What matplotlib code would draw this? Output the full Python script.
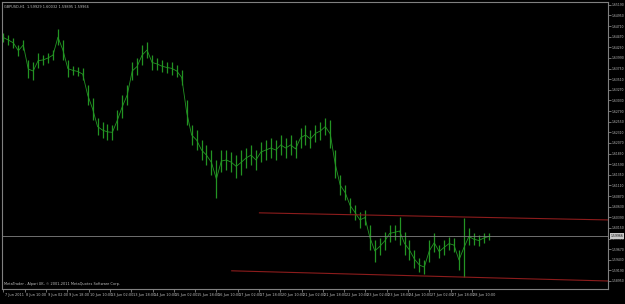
import matplotlib
matplotlib.use("Agg")
import matplotlib.pyplot as plt
import numpy as np

# GBPUSD H1, sampled every few bars: high / low of each sample
highs = [1.6455, 1.6451, 1.6444, 1.6428, 1.6440, 1.6394, 1.6390, 1.6410, 1.6406, 1.6410,
         1.6417, 1.6464, 1.6440, 1.6394, 1.6381, 1.6379, 1.6376, 1.6338, 1.6309, 1.6263,
         1.6254, 1.6250, 1.6248, 1.6281, 1.6315, 1.6338, 1.6390, 1.6399, 1.6428, 1.6435,
         1.6406, 1.6399, 1.6394, 1.6390, 1.6390, 1.6383, 1.6372, 1.6304, 1.6248, 1.6236,
         1.6214, 1.6202, 1.6191, 1.6168, 1.6191, 1.6191, 1.6186, 1.6180, 1.6191, 1.6196,
         1.6202, 1.6191, 1.6209, 1.6214, 1.6218, 1.6214, 1.6225, 1.6218, 1.6225, 1.6214,
         1.6241, 1.6248, 1.6236, 1.6248, 1.6254, 1.6263, 1.6259, 1.6191, 1.6135, 1.6112,
         1.6083, 1.6067, 1.6051, 1.6055, 1.6022, 1.5988, 1.5992, 1.6006, 1.6022, 1.6022,
         1.6040, 1.6006, 1.5988, 1.5965, 1.5947, 1.5942, 1.5988, 1.6003, 1.5976, 1.5988,
         1.5994, 1.5992, 1.5965, 1.6037, 1.6015, 1.6003, 1.5999, 1.6003, 1.6003]
lows = [1.6435, 1.6428, 1.6422, 1.6403, 1.6417, 1.6354, 1.6349, 1.6376, 1.6383, 1.6388,
        1.6394, 1.6428, 1.6394, 1.6356, 1.6361, 1.6358, 1.6349, 1.6293, 1.6259, 1.6225,
        1.6218, 1.6214, 1.6214, 1.6236, 1.6263, 1.6293, 1.6349, 1.6361, 1.6383, 1.6399,
        1.6372, 1.6372, 1.6367, 1.6365, 1.6361, 1.6356, 1.6338, 1.6248, 1.6202, 1.6191,
        1.6168, 1.6157, 1.6135, 1.6083, 1.6141, 1.6146, 1.6141, 1.6128, 1.6135, 1.6150,
        1.6157, 1.6146, 1.6164, 1.6168, 1.6173, 1.6168, 1.6180, 1.6173, 1.6180, 1.6173,
        1.6196, 1.6202, 1.6196, 1.6209, 1.6214, 1.6225, 1.6196, 1.6128, 1.6089, 1.6078,
        1.6049, 1.6033, 1.6015, 1.6022, 1.5965, 1.5938, 1.5954, 1.5965, 1.5983, 1.5988,
        1.5976, 1.5954, 1.5942, 1.5924, 1.5915, 1.5911, 1.5938, 1.5960, 1.5947, 1.5954,
        1.5965, 1.5960, 1.5920, 1.5904, 1.5976, 1.5976, 1.5974, 1.5981, 1.5988]

# trend lines (sample index, price) anchors
upper_line = [(51.7, 1.6049), (122.1, 1.6033)]
lower_line = [(46.1, 1.5918), (122.1, 1.5895)]
bid = 1.59966

time_labels = ["7 Jun 2011", "8 Jun 10:00", "9 Jun 02:00", "9 Jun 18:00", "10 Jun 10:00",
               "13 Jun 02:00", "13 Jun 18:00", "14 Jun 10:00", "15 Jun 02:00", "15 Jun 18:00",
               "16 Jun 10:00", "17 Jun 02:00", "17 Jun 18:00", "20 Jun 10:00", "21 Jun 02:00",
               "21 Jun 18:00", "22 Jun 10:00", "23 Jun 02:00", "23 Jun 18:00", "24 Jun 10:00",
               "27 Jun 02:00", "27 Jun 18:00", "28 Jun 10:00"]
price_ticks = [round(1.65190 - 0.00240 * k, 5) for k in range(27)]

title = "GBPUSD,H1  1.59929 1.60032 1.59895 1.59966"
footer = "MetaTrader - Alpari UK, \u00a9 2001-2011 MetaQuotes Software Corp."

fg = "#c0c0c0"
grey = "#808080"
fs = 2.5
plt.rcParams["font.family"] = ["Liberation Sans Narrow", "DejaVu Sans"]

fig = plt.figure(figsize=(6.25, 3.04), dpi=100, facecolor="black")
ax = fig.add_axes([2 / 625, 15 / 304, 606 / 625, 287 / 304], facecolor="black")

idx = np.arange(len(highs))
h = np.array(highs)
l = np.array(lows)
ax.vlines(idx, l, h, color="#239423", lw=0.9)
ax.plot(idx, (h + l) / 2, color="#239423", lw=0.6)

for line in (upper_line, lower_line):
    xs, ys = zip(*line)
    ax.plot(xs, ys, color="#8c1c1c", lw=0.8)

ax.axhline(bid, color=grey, lw=0.6)

ax.set_xlim(-0.3, 122.1)
ax.set_ylim(1.58769, 1.65255)

for s in ax.spines.values():
    s.set_color(grey)
    s.set_linewidth(0.8)

ax.yaxis.tick_right()
ax.set_yticks(price_ticks)
ax.set_yticklabels([f"{p:.5f}" for p in price_ticks])
ax.tick_params(axis="y", colors=grey, labelcolor=fg, labelsize=2.2, length=2, width=0.6, pad=0.8)

# time axis: tick marks with left aligned labels
label_pos = [k * 4.3 for k in range(len(time_labels))]
ax.set_xticks(label_pos)
ax.set_xticklabels([])
ax.tick_params(axis="x", colors=grey, length=2, width=0.6, direction="out")
for x, lab in zip(label_pos, time_labels):
    ax.text(x + 0.3, -0.014, lab, transform=ax.get_xaxis_transform(), ha="left", va="top",
            fontsize=fs, color=fg, clip_on=False)

# current price label
ax.text(1.0045, bid, f"{bid:.5f}", transform=ax.get_yaxis_transform(), ha="left", va="center",
        fontsize=2.2, color="black", clip_on=False,
        bbox=dict(boxstyle="square,pad=0.2", facecolor="#c8c8c8", edgecolor="none"))

ax.text(0.003, 0.988, title, transform=ax.transAxes, ha="left", va="top", fontsize=fs, color=fg)
ax.text(0.003, 0.012, footer, transform=ax.transAxes, ha="left", va="bottom", fontsize=fs, color=fg)

fig.savefig("out.png", dpi=100, facecolor="black")
